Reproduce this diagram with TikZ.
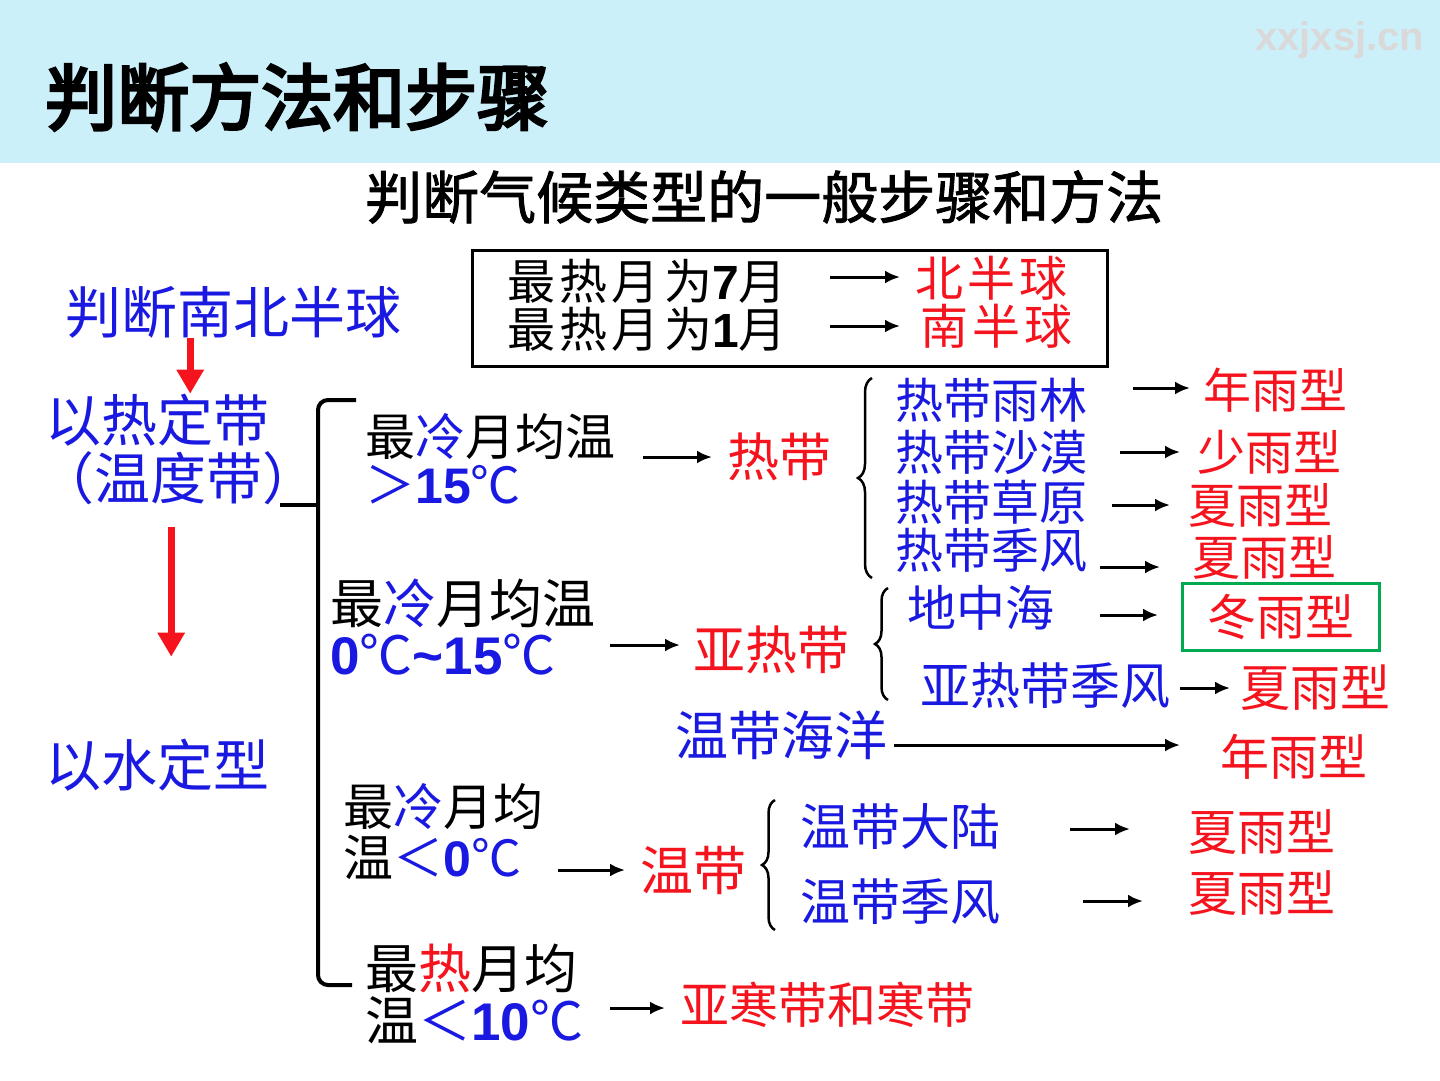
\documentclass[tikz,border=0pt]{standalone}
\usepackage{fontspec}
\setmainfont{Noto Sans CJK SC}
\newfontfamily\lat{Liberation Sans}
\newfontfamily\heavycjk{Noto Sans CJK SC}[FakeBold=4]
\newfontfamily\midcjk{Noto Sans CJK SC}[FakeBold=1.5]
\newfontfamily\widecjk{Noto Sans CJK SC}[LetterSpace=9]
\usetikzlibrary{arrows.meta,decorations.pathreplacing}
\newcommand{\bnum}[1]{{\lat\bfseries #1}}

\begin{document}
\begin{tikzpicture}[x=1pt,y=-1pt,
  txt/.style={anchor=west,inner sep=0pt,font=\fontsize{#1}{#1}\selectfont},
  txt/.default=50,
  bl/.style={txt=#1,text=tblue}, bl/.default=50,
  rd/.style={txt=#1,text=tred}, rd/.default=50,
  wide/.style={anchor=west,inner sep=0pt,font=\widecjk\fontsize{48}{48}\selectfont},
  arr/.style={line width=3pt,-{Latex[length=15pt,width=13pt]}},
  redarr/.style={line width=7pt,tred,-{Triangle[length=24pt,width=26pt]}},
  brc/.style={decorate,decoration={brace,amplitude=#1},line width=2.5pt},
  brc/.default=14pt]

\definecolor{tblue}{RGB}{25,25,225}
\definecolor{tred}{RGB}{245,20,30}
\definecolor{tgreen}{RGB}{0,170,80}
\definecolor{hdr}{RGB}{204,240,250}

\useasboundingbox (0,0) rectangle (1440,1080);
\fill[white] (0,0) rectangle (1440,1080);
\fill[hdr] (0,0) rectangle (1440,163);

\node[txt, font=\heavycjk\fontsize{72}{72}\selectfont] (title) at (45,97) {判断方法和步骤};
\node[txt, text=black!15, font=\lat\bfseries\fontsize{40}{40}\selectfont] (wm) at (1255,40) {xxjxsj.cn};
\node[txt, font=\midcjk\fontsize{57}{57}\selectfont] (sub) at (365,197) {判断气候类型的一般步骤和方法};

\draw[line width=3pt] (472,250) rectangle (1107,366);
\node[wide] (h7) at (507,281) {最热月为\bnum{7}月};
\node[wide] (h1) at (507,329) {最热月为\bnum{1}月};
\node[wide, text=tred] (nh) at (915,278) {北半球};
\node[wide, text=tred] (sh) at (920,326) {南半球};
\draw[arr] ([xshift=-85pt,yshift=1pt]nh.west) -- ([xshift=-15pt,yshift=1pt]nh.west);
\draw[arr] ([xshift=-90pt]sh.west) -- ([xshift=-20pt]sh.west);

\node[bl=56] (q1) at (65,312) {判断南北半球};
\node[bl=56] (q2) at (45,420) {以热定带};
\node[bl=56] (q3) at (38,478) {（温度带）};
\node[bl=56] (q4) at (45,765) {以水定型};
\draw[redarr] ([xshift=-43pt]q1.south) -- ([xshift=-43pt]q1.south |- q2.north);
\draw[redarr, shorten <=22pt, shorten >=82pt] ([xshift=-7pt]q3.south) -- ([xshift=-7pt]q3.south |- q4.north);

\draw[line width=4pt, rounded corners=10pt] (356,400) -- (318,400) -- (318,985) -- (352,985);
\draw[line width=4pt] (280,505) -- (318,505);

\node[txt] (a1) at (365,437) {最\textcolor{tblue}{冷}月均温};
\node[bl] (a2) at (365,485) {＞\bnum{15}℃};
\node[rd=52] (ta) at (727,457) {热带};
\draw[arr] ([xshift=-84pt]ta.west) -- ([xshift=-15pt]ta.west);
\draw[brc] (872,578) -- (872,378);
\node[bl=48] (r1) at (895,400) {热带雨林};
\node[bl=48] (r2) at (895,452) {热带沙漠};
\node[bl=48] (r3) at (895,502) {热带草原};
\node[bl=48] (r4) at (895,550) {热带季风};
\node[rd=48] (y1) at (1203,390) {年雨型};
\node[rd=48] (y2) at (1197,452) {少雨型};
\node[rd=48] (y3) at (1188,505) {夏雨型};
\node[rd=48] (y4) at (1192,557) {夏雨型};
\draw[arr] ([xshift=-70pt,yshift=2pt]y1.west) -- ([xshift=-13pt,yshift=2pt]y1.west);
\draw[arr] ([xshift=-77pt]y2.west) -- ([xshift=-17pt]y2.west);
\draw[arr] ([xshift=-76pt]y3.west) -- ([xshift=-18pt]y3.west);
\draw[arr] ([xshift=-92pt,yshift=-10pt]y4.west) -- ([xshift=-32pt,yshift=-10pt]y4.west);

\node[txt=53] (b1) at (330,603) {最\textcolor{tblue}{冷}月均温};
\node[bl=53] (b2) at (330,655) {\bnum{0}℃\bnum{\textasciitilde 15}℃};
\node[rd=52] (tb) at (693,650) {亚热带};
\draw[arr] ([xshift=-83pt,yshift=5pt]tb.west) -- ([xshift=-13pt,yshift=5pt]tb.west);
\draw[brc=13pt] (888,700) -- (888,588);
\node[bl=49] (s1) at (907,608) {地中海};
\node[draw=tgreen, line width=3pt, minimum width=197pt, minimum height=67pt, inner sep=0pt,
  text=tred, font=\fontsize{49}{49}\selectfont] (w) at (1281,617) {冬雨型};
\draw[arr] ([xshift=-81pt,yshift=2pt]w.west) -- ([xshift=-23pt,yshift=2pt]w.west);
\node[bl] (s2) at (920,686) {亚热带季风};
\node[rd] (y6) at (1240,688) {夏雨型};
\draw[arr] ([xshift=-60pt]y6.west) -- ([xshift=-10pt]y6.west);
\node[bl=53] (oc) at (675,735) {温带海洋};
\node[rd=49] (y7) at (1220,757) {年雨型};
\draw[arr] ([xshift=7pt,yshift=-10pt]oc.east) -- ([xshift=-40pt,yshift=12pt]y7.west);

\node[txt] (c1) at (343,807) {最\textcolor{tblue}{冷}月均};
\node[txt] (c2) at (343,857) {温\textcolor{tblue}{＜\bnum{0}℃}};
\node[rd=53] (tc) at (640,870) {温带};
\draw[arr] ([xshift=-82pt]tc.west) -- ([xshift=-15pt]tc.west);
\draw[brc=13pt] (775,930) -- (775,800);
\node[bl] (d1) at (800,827) {温带大陆};
\node[bl] (d2) at (800,902) {温带季风};
\node[rd=49] (y8) at (1188,832) {夏雨型};
\node[rd=49] (y9) at (1188,893) {夏雨型};
\draw[arr] ([xshift=-118pt,yshift=3pt]y8.west) -- ([xshift=-58pt,yshift=3pt]y8.west);
\draw[arr] ([xshift=-105pt,yshift=-8pt]y9.west) -- ([xshift=-45pt,yshift=-8pt]y9.west);

\node[txt=53] (e1) at (365,968) {最\textcolor{tred}{热}月均};
\node[txt=53] (e2) at (365,1020) {温\textcolor{tblue}{＜\bnum{10}℃}};
\node[rd=49] (tf) at (680,1005) {亚寒带和寒带};
\draw[arr] ([xshift=-70pt,yshift=-3pt]tf.west) -- ([xshift=-15pt,yshift=-3pt]tf.west);
\end{tikzpicture}
\end{document}
